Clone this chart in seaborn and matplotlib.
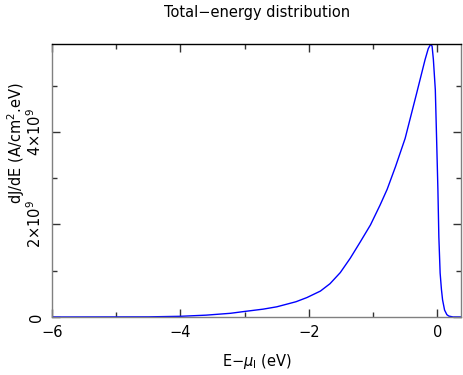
import numpy as np
import pandas as pd
import matplotlib
matplotlib.use("Agg")
import matplotlib.pyplot as plt
from matplotlib.ticker import MultipleLocator, FixedLocator
import seaborn as sns

# values (energy in eV, dJ/dE in units of 1e9 A/cm^2.eV)
energy = [-6.0, -4.5, -4.0, -3.6, -3.22, -3.0, -2.71, -2.5, -2.39, -2.2,
          -2.03, -1.82, -1.67, -1.51, -1.355, -1.20, -1.04, -0.89, -0.78, -0.65,
          -0.50, -0.32, -0.19, -0.14, -0.10, -0.08, -0.06, -0.03, -0.01, 0.01,
          0.025, 0.045, 0.065, 0.083, 0.114, 0.15, 0.18, 0.25, 0.37]
djde = [0.0, 0.003, 0.015, 0.04, 0.08, 0.12, 0.17, 0.22, 0.26, 0.33,
        0.42, 0.56, 0.72, 0.96, 1.27, 1.62, 1.99, 2.42, 2.76, 3.25,
        3.86, 4.84, 5.56, 5.80, 5.90, 5.85, 5.56, 4.91, 3.85, 2.77,
        1.73, 0.95, 0.60, 0.37, 0.15, 0.05, 0.02, 0.0, 0.0]

ytick_vals = [0, 2e9, 4e9]
ytick_text = ["0", r"$2{\times}10^9$", r"$4{\times}10^9$"]

df = pd.DataFrame({"E": energy, "dJdE": np.array(djde) * 1e9})

sns.set_theme(style="ticks")
plt.rcParams["font.family"] = ["DejaVu Sans"]
plt.rcParams["mathtext.fontset"] = "dejavusans"
plt.rcParams["text.color"] = "black"
plt.rcParams["xtick.labelcolor"] = "black"
plt.rcParams["ytick.labelcolor"] = "black"

fig = plt.figure(figsize=(4.63, 3.75), dpi=100)
ax = fig.add_axes([52 / 463, 1 - 317 / 375, 409 / 463, 273 / 375])

sns.lineplot(data=df, x="E", y="dJdE", color="#0000ff", linewidth=1.0,
             estimator=None, ax=ax)

ax.set_xlim(-6, 0.37)
ax.set_ylim(0, 5.9e9)

ax.xaxis.set_major_locator(MultipleLocator(2))
ax.xaxis.set_minor_locator(MultipleLocator(1))
ax.yaxis.set_major_locator(FixedLocator(ytick_vals))
ax.yaxis.set_minor_locator(MultipleLocator(1e9))
ax.set_yticklabels(ytick_text, rotation=90, va="center")

ax.tick_params(which="both", direction="in", top=True, right=True,
               color="#333333", labelcolor="black", labelsize=10.5)
ax.tick_params(which="major", length=6, width=1)
ax.tick_params(which="minor", length=3.5, width=1)
ax.tick_params(axis="y", pad=6)
ax.tick_params(axis="x", pad=6)

for side in ["left", "bottom", "right"]:
    ax.spines[side].set_color("#808080")
    ax.spines[side].set_linewidth(1.0)
ax.spines["top"].set_color("black")
ax.spines["top"].set_linewidth(1.0)

ax.set_xlabel(r"E$-\mu_{\rm l}$ (eV)", fontsize=10.5, color="black")
ax.xaxis.set_label_coords(0.5, -0.13)
ax.set_ylabel("")

fig.text(16 / 463, 1 - 143 / 375, r"dJ/dE (A/cm$^2$.eV)", rotation=90,
         ha="center", va="center", fontsize=10.5, color="black")
fig.text(257 / 463, 1 - 12 / 375, "Total\u2212energy distribution",
         ha="center", va="center", fontsize=10.5, color="black")

fig.savefig("out.png", dpi=100)
